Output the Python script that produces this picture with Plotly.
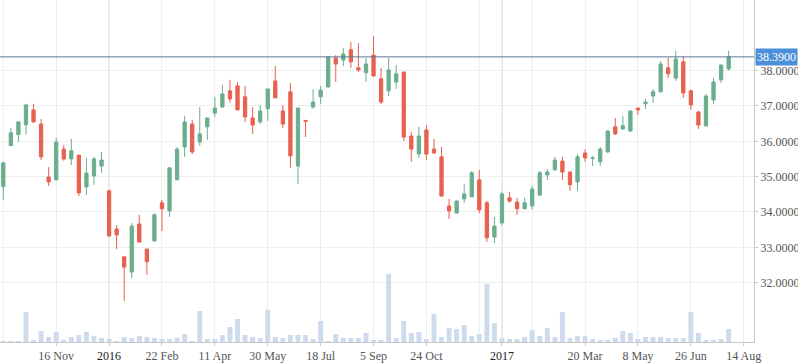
import pandas as pd
import plotly.graph_objects as go

# Weekly candles, week starting Monday 28 Sep 2015 through 31 Jul 2017
dates = pd.date_range("2015-09-28", periods=97, freq="7D")

opens = [34.72, 35.88, 36.19, 36.47, 36.89, 36.49, 34.99, 34.91, 35.78, 35.50,
         35.61, 34.71, 35.02, 35.30, 34.60, 33.52, 32.73, 32.30, 33.66, 32.95,
         33.18, 34.26, 34.03, 34.91, 35.84, 36.49, 35.98, 36.41, 36.80, 36.97,
         37.43, 37.57, 37.26, 36.66, 36.55, 36.92, 37.71, 36.86, 37.40, 35.30,
         36.59, 36.97, 37.26, 37.54, 38.36, 38.30, 38.59, 38.08, 37.94, 38.44,
         37.77, 37.43, 37.68, 37.96, 36.15, 35.64, 36.32, 35.78, 35.56, 34.17,
         33.97, 34.37, 34.43, 34.91, 34.26, 33.29, 33.69, 34.40, 34.28, 34.09,
         34.17, 34.48, 35.05, 35.19, 35.44, 35.13, 34.85, 35.67, 35.51, 35.42,
         35.70, 36.41, 36.35, 36.29, 36.94, 37.06, 37.28, 37.40, 38.08, 37.79,
         38.25, 37.43, 36.83, 36.44, 37.17, 37.74, 38.05]
highs = [35.42, 36.38, 36.56, 37.06, 37.06, 36.63, 35.27, 36.10, 35.90, 36.07,
         35.62, 35.53, 35.56, 35.70, 34.61, 33.63, 32.74, 33.69, 33.92, 32.96,
         33.97, 34.34, 35.26, 35.84, 36.72, 36.61, 36.97, 36.67, 37.26, 37.60,
         37.74, 37.68, 37.57, 36.97, 37.03, 37.49, 38.13, 37.03, 37.65, 36.95,
         36.61, 37.48, 37.57, 38.40, 38.44, 38.64, 38.81, 38.78, 38.36, 38.98,
         38.08, 38.36, 38.16, 37.97, 36.27, 36.41, 36.46, 36.07, 35.84, 34.37,
         34.32, 34.79, 35.16, 35.19, 34.31, 33.86, 34.57, 34.57, 34.40, 34.40,
         34.74, 35.16, 35.22, 35.56, 35.56, 35.14, 35.64, 35.78, 35.59, 35.84,
         36.32, 36.66, 36.72, 36.87, 36.97, 37.20, 37.48, 38.27, 38.36, 38.56,
         38.42, 37.45, 36.86, 37.34, 37.79, 38.17, 38.56]
lows = [34.34, 35.86, 35.99, 36.19, 36.53, 35.47, 34.74, 34.89, 35.45, 35.33,
        34.45, 34.48, 34.77, 35.11, 33.31, 32.95, 31.48, 32.13, 33.14, 32.22,
        33.17, 33.46, 33.86, 34.90, 35.56, 35.64, 35.87, 36.04, 36.69, 36.96,
        37.09, 36.88, 36.55, 36.21, 36.49, 36.58, 37.22, 36.38, 35.25, 34.79,
        36.12, 36.92, 37.06, 37.51, 37.68, 38.13, 38.08, 37.96, 37.68, 37.84,
        37.06, 37.28, 37.48, 36.01, 35.42, 35.53, 35.47, 35.64, 34.44, 33.80,
        33.96, 34.26, 34.42, 33.97, 33.15, 33.12, 33.63, 34.26, 33.92, 34.08,
        34.06, 34.45, 34.91, 35.18, 34.91, 34.60, 34.60, 35.42, 35.30, 35.30,
        35.67, 36.18, 36.32, 36.28, 36.75, 36.92, 37.09, 37.39, 37.79, 37.71,
        37.23, 36.89, 36.35, 36.41, 37.06, 37.65, 38.00]
closes = [35.39, 36.24, 36.55, 37.03, 36.55, 35.56, 34.85, 35.98, 35.50, 35.73,
          34.54, 35.10, 35.50, 35.47, 33.32, 33.35, 32.44, 33.60, 33.15, 32.59,
          33.92, 34.09, 35.25, 35.78, 36.55, 35.70, 36.21, 36.66, 36.94, 37.34,
          37.20, 36.89, 36.69, 36.46, 36.86, 37.48, 37.23, 36.49, 35.59, 36.94,
          36.57, 37.11, 37.45, 38.39, 38.19, 38.47, 38.25, 38.02, 38.19, 37.85,
          37.11, 38.02, 37.91, 36.12, 35.78, 36.15, 35.64, 35.67, 34.45, 34.03,
          34.31, 34.51, 35.11, 34.06, 33.27, 33.60, 34.51, 34.31, 34.09, 34.26,
          34.65, 35.11, 35.13, 35.47, 35.13, 34.77, 35.56, 35.53, 35.53, 35.78,
          36.29, 36.21, 36.44, 36.86, 36.89, 37.11, 37.40, 38.19, 37.91, 38.33,
          37.37, 37.03, 36.46, 37.28, 37.68, 38.16, 38.39]
volumes = [1, 1, 1, 30, 2, 11, 5, 10, 2, 5,
           7, 10, 6, 4, 3, 1, 5, 4, 6, 5,
           4, 3, 3, 4, 8, 1, 31, 3, 3, 7,
           15, 23, 7, 5, 4, 32, 5, 4, 7, 7,
           7, 3, 21, 1, 8, 4, 4, 4, 9, 2,
           2, 68, 4, 21, 9, 10, 3, 28, 5, 14,
           13, 17, 6, 8, 58, 19, 4, 3, 3, 5,
           12, 6, 14, 5, 30, 4, 6, 6, 3, 2,
           2, 4, 11, 9, 3, 5, 5, 5, 4, 4,
           4, 30, 9, 2, 2, 3, 13]

tick_dates = ["2015-11-16", "2016-01-04", "2016-02-22", "2016-04-11", "2016-05-30",
              "2016-07-18", "2016-09-05", "2016-10-24", "2017-01-02", "2017-03-20",
              "2017-05-08", "2017-06-26", "2017-08-14"]
tick_labels = ["16 Nov", "2016", "22 Feb", "11 Apr", "30 May", "18 Jul", "5 Sep",
               "24 Oct", "2017", "20 Mar", "8 May", "26 Jun", "14 Aug"]
extra_grid_dates = ["2015-09-28", "2016-12-12", "2017-01-30"]
year_dates = ["2016-01-04", "2017-01-02"]
y_ticks = [32, 33, 34, 35, 36, 37, 38]
last_price = closes[-1]

GREEN = "#6aae8d"
RED = "#e8614f"
GRID = "#eeeeee"
AXIS = "#c8c8c8"

fig = go.Figure()

fig.add_trace(go.Bar(
    x=dates, y=volumes, yaxis="y2",
    marker=dict(color="#cddbed", line=dict(width=0)),
    width=4.6 * 86400000, hoverinfo="skip", showlegend=False,
))

fig.add_trace(go.Candlestick(
    x=dates, open=opens, high=highs, low=lows, close=closes,
    increasing=dict(line=dict(color=GREEN, width=1), fillcolor=GREEN),
    decreasing=dict(line=dict(color=RED, width=1), fillcolor=RED),
    whiskerwidth=0, showlegend=False,
))

shapes = []
for d in extra_grid_dates:
    shapes.append(dict(type="line", xref="x", yref="paper", x0=d, x1=d, y0=0, y1=1,
                       line=dict(color=GRID, width=1), layer="below"))
for d in year_dates:
    shapes.append(dict(type="line", xref="x", yref="paper", x0=d, x1=d, y0=0, y1=1,
                       line=dict(color="#cbcbcb", width=1), layer="below"))
shapes.append(dict(type="line", xref="paper", yref="y", x0=0, x1=1,
                   y0=last_price, y1=last_price,
                   line=dict(color="#5a7596", width=1), layer="above"))

tick_text = []
for lbl in tick_labels:
    if lbl.isdigit():
        tick_text.append('<span style="color:#222">' + lbl + '</span>')
    else:
        tick_text.append(lbl)

fig.update_layout(
    width=798, height=363,
    margin=dict(l=0, r=44, t=0, b=21),
    paper_bgcolor="white", plot_bgcolor="white",
    font=dict(family="Liberation Serif", size=12, color="#555555"),
    boxgap=0.38,
    showlegend=False,
    shapes=shapes,
    xaxis=dict(
        type="date",
        range=["2015-09-24 22:30", "2017-08-23 12:00"],
        rangeslider=dict(visible=False),
        tickvals=tick_dates, ticktext=tick_text,
        ticks="outside", ticklen=3, tickcolor=AXIS,
        showgrid=True, gridcolor=GRID, gridwidth=1,
        showline=True, linecolor=AXIS, linewidth=1,
        zeroline=False, tickangle=0,
        tickfont=dict(family="Liberation Serif", size=12, color="#555555"),
    ),
    yaxis=dict(
        side="right", range=[30.32, 40.0],
        tickvals=y_ticks, tickformat=".4f",
        ticks="outside", ticklen=3, tickcolor=AXIS,
        showgrid=True, gridcolor=GRID, gridwidth=1,
        showline=True, linecolor=AXIS, linewidth=1, mirror=False,
        zeroline=False,
        tickfont=dict(family="Liberation Serif", size=12, color="#555555"),
    ),
    yaxis2=dict(
        overlaying="y", side="left", range=[0, max(volumes) * 5.03],
        showgrid=False, showticklabels=False, zeroline=False, showline=False,
    ),
    annotations=[dict(
        xref="paper", yref="y", x=1, y=last_price, xanchor="left", yanchor="middle",
        text="%.4f" % last_price, showarrow=False,
        font=dict(family="Liberation Serif", size=12, color="white"),
        bgcolor="#4a8fd8", borderpad=1, xshift=1,
    )],
)

fig.write_html(
    "out.html",
    config={"displayModeBar": False},
    post_script="document.body.style.margin='0';document.body.style.overflow='hidden';",
)
